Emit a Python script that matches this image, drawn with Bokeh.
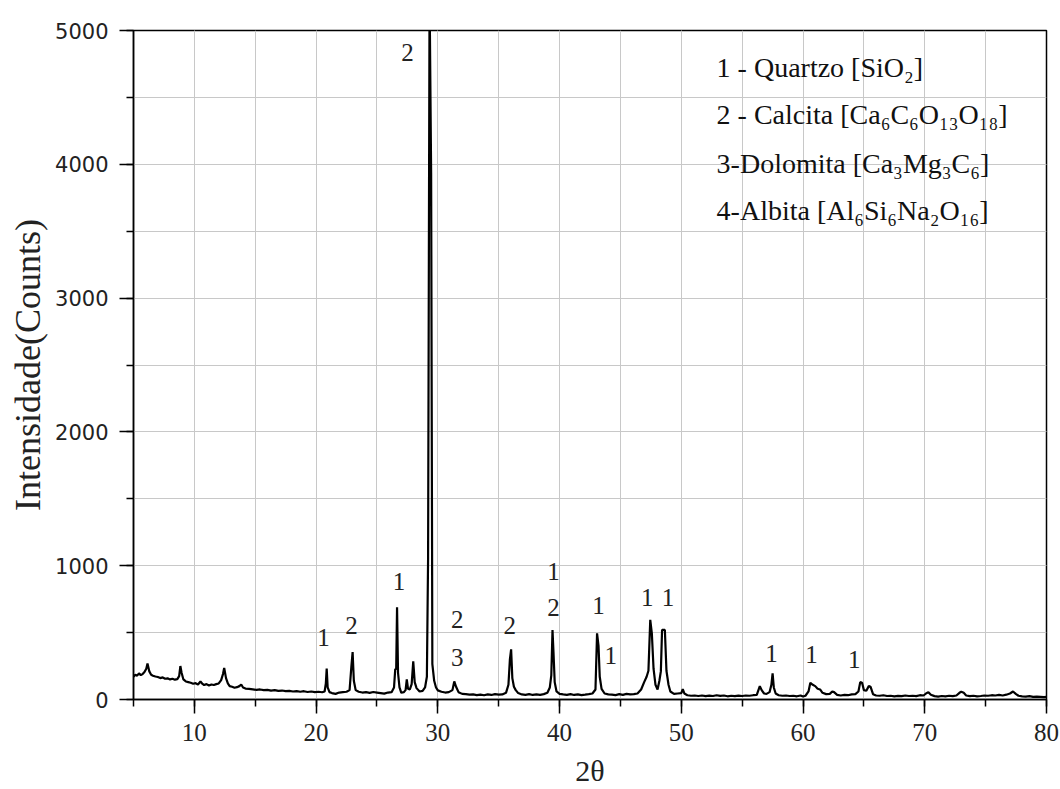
from bokeh.plotting import figure
from bokeh.models import Range1d, SingleIntervalTicker, Label, ColumnDataSource
from bokeh.core.properties import value
from bokeh.embed import file_html
from bokeh.resources import INLINE

# X-ray diffraction pattern: 2-theta (degrees) and intensity (counts)
two_theta = [
    5.0, 5.15, 5.3, 5.45, 5.6, 5.75, 5.9, 6.05, 6.15, 6.3,
    6.45, 6.6, 6.8, 7.0, 7.2, 7.4, 7.6, 7.8, 8.0, 8.2,
    8.4, 8.6, 8.75, 8.85, 8.95, 9.1, 9.3, 9.5, 9.7, 9.9,
    10.1, 10.3, 10.5, 10.65, 10.8, 11.0, 11.2, 11.4, 11.6, 11.8,
    12.0, 12.2, 12.35, 12.45, 12.6, 12.75, 12.9, 13.1, 13.3, 13.5,
    13.7, 13.85, 14.0, 14.2, 14.5, 14.8, 15.1, 15.4, 15.7, 16.0,
    16.3, 16.6, 16.9, 17.2, 17.5, 17.8, 18.1, 18.4, 18.7, 19.0,
    19.3, 19.6, 19.9, 20.2, 20.5, 20.7, 20.8, 20.87, 20.95, 21.1,
    21.3, 21.6, 21.9, 22.2, 22.5, 22.75, 22.9, 23.0, 23.1, 23.25,
    23.5, 23.8, 24.1, 24.4, 24.7, 25.0, 25.3, 25.6, 25.9, 26.2,
    26.4, 26.5, 26.58, 26.65, 26.73, 26.85, 27.0, 27.2, 27.35, 27.45,
    27.55, 27.7, 27.85, 27.98, 28.1, 28.25, 28.5, 28.75, 28.95, 29.1,
    29.2, 29.32, 29.45, 29.55, 29.7, 29.85, 30.0, 30.3, 30.6, 30.9,
    31.2, 31.35, 31.5, 31.7, 32.0, 32.3, 32.6, 32.9, 33.2, 33.5,
    33.8, 34.1, 34.4, 34.7, 35.0, 35.3, 35.6, 35.8, 35.92, 36.02,
    36.12, 36.25, 36.4, 36.6, 36.9, 37.2, 37.5, 37.8, 38.1, 38.4,
    38.7, 39.0, 39.2, 39.32, 39.42, 39.5, 39.6, 39.75, 40.0, 40.3,
    40.6, 40.9, 41.2, 41.5, 41.8, 42.1, 42.4, 42.7, 42.95, 43.08,
    43.2, 43.3, 43.45, 43.7, 44.0, 44.3, 44.6, 44.9, 45.2, 45.5,
    45.8, 46.1, 46.4, 46.7, 46.95, 47.15, 47.3, 47.45, 47.58, 47.72,
    47.88, 48.05, 48.2, 48.32, 48.42, 48.65, 48.78, 48.95, 49.1, 49.4,
    49.7, 50.0, 50.12, 50.25, 50.5, 50.8, 51.1, 51.4, 51.7, 52.0,
    52.3, 52.6, 52.9, 53.2, 53.5, 53.8, 54.1, 54.4, 54.7, 55.0,
    55.3, 55.6, 55.9, 56.2, 56.45, 56.6, 56.8, 57.0, 57.25, 57.4,
    57.5, 57.6, 57.75, 58.0, 58.3, 58.6, 58.9, 59.2, 59.5, 59.8,
    60.0, 60.2, 60.45, 60.6, 60.8, 61.0, 61.2, 61.4, 61.6, 61.9,
    62.2, 62.4, 62.55, 62.8, 63.1, 63.4, 63.7, 64.0, 64.3, 64.55,
    64.7, 64.85, 65.0, 65.2, 65.4, 65.55, 65.75, 66.0, 66.3, 66.6,
    66.9, 67.2, 67.5, 67.8, 68.1, 68.4, 68.7, 69.0, 69.3, 69.6,
    69.9, 70.1, 70.3, 70.5, 70.8, 71.1, 71.4, 71.7, 72.0, 72.3,
    72.6, 72.85, 73.0, 73.2, 73.4, 73.7, 74.0, 74.3, 74.6, 74.9,
    75.2, 75.5, 75.8, 76.1, 76.4, 76.7, 77.0, 77.25, 77.5, 77.7,
    78.0, 78.3, 78.6, 78.9, 79.2, 79.5, 79.8, 80.0,
]
counts = [
    170, 185, 178, 195, 182, 190, 205, 230, 270, 210,
    185, 178, 172, 168, 160, 165, 155, 158, 150, 155,
    148, 152, 175, 250, 200, 150, 135, 130, 125, 118,
    122, 112, 135, 118, 108, 115, 105, 112, 108, 115,
    120, 145, 190, 235, 160, 120, 100, 95, 88, 92,
    100, 112, 90, 82, 80, 76, 72, 75, 70, 72,
    66, 70, 64, 67, 62, 65, 60, 63, 58, 62,
    56, 60, 55, 58, 54, 60, 120, 232, 90, 55,
    48, 42, 52, 55, 58, 70, 250, 355, 140, 70,
    58, 52, 55, 50, 56, 52, 48, 44, 52, 55,
    90, 225, 230, 690, 200, 90, 50, 55, 70, 150,
    80, 75, 115, 285, 130, 85, 60, 65, 90, 170,
    1060, 5300, 3930, 265, 140, 90, 68, 58, 52, 55,
    70, 135, 95, 55, 42, 40, 36, 38, 33, 37,
    32, 38, 34, 40, 36, 38, 50, 110, 300, 375,
    160, 95, 70, 48, 38, 35, 40, 34, 38, 35,
    40, 50, 90, 180, 520, 355, 130, 60, 42, 38,
    35, 40, 34, 38, 33, 36, 40, 45, 75, 495,
    400, 170, 80, 45, 38, 36, 33, 40, 35, 42,
    38, 40, 45, 75, 130, 170, 215, 595, 495, 230,
    110, 75, 140, 210, 520, 520, 215, 110, 60, 42,
    45, 48, 78, 45, 32, 28, 30, 26, 30, 25,
    29, 26, 32, 27, 30, 24, 28, 25, 29, 26,
    30, 28, 32, 35, 100, 70, 45, 42, 55, 110,
    195, 90, 45, 32, 28, 30, 26, 28, 24, 30,
    22, 28, 60, 125, 110, 100, 80, 75, 50, 40,
    42, 60, 55, 35, 30, 34, 32, 38, 40, 60,
    130, 125, 70, 65, 100, 95, 40, 30, 28, 32,
    26, 28, 24, 27, 25, 30, 26, 28, 25, 32,
    30, 45, 55, 35, 25, 22, 26, 24, 28, 25,
    30, 50, 58, 50, 30, 25, 28, 24, 26, 30,
    28, 32, 30, 34, 30, 36, 45, 60, 40, 28,
    24, 22, 25, 20, 22, 20, 18, 20,
]

# Phase identification marks above the peaks
peak_label_x = [27.5, 20.6, 22.9, 26.8, 31.6, 31.6, 35.9, 39.5, 39.5, 43.2, 44.2,
                47.2, 48.9, 57.4, 60.7, 64.2]
peak_label_y = [4836, 463, 552, 880, 597, 313, 552, 955, 687, 701, 328,
                761, 761, 343, 336, 299]
peak_label_text = ["2", "1", "2", "1", "2", "3", "2", "1", "2", "1", "1",
                   "1", "1", "1", "1", "1"]

# Phase key
phase_key = [
    "1 - Quartzo [SiO\u2082]",
    "2 - Calcita [Ca\u2086C\u2086O\u2081\u2083O\u2081\u2088]",
    "3-Dolomita [Ca\u2083Mg\u2083C\u2086]",
    "4-Albita [Al\u2086Si\u2086Na\u2082O\u2081\u2086]",
]
phase_key_y = [4724, 4374, 4009, 3651]

serif = "Liberation Serif"

p = figure(
    width=1060, height=789,
    x_range=Range1d(5, 80), y_range=Range1d(0, 5000),
    output_backend="svg", toolbar_location=None, tools="",
    min_border_left=133, min_border_right=14, min_border_top=30, min_border_bottom=88,
)
p.background_fill_color = "white"
p.border_fill_color = "white"
p.outline_line_color = "black"
p.outline_line_width = 1.5

p.xaxis.ticker = SingleIntervalTicker(interval=10, num_minor_ticks=2)
p.yaxis.ticker = SingleIntervalTicker(interval=1000, num_minor_ticks=2)

for ax in (p.xaxis, p.yaxis):
    ax.axis_line_color = "black"
    ax.axis_line_width = 1.5
    ax.major_tick_line_color = "black"
    ax.minor_tick_line_color = "black"
    ax.major_tick_line_width = 1.5
    ax.minor_tick_line_width = 1.5
    ax.major_tick_in = 0
    ax.major_tick_out = 14
    ax.minor_tick_in = 0
    ax.minor_tick_out = 7
    ax.major_label_text_color = "#222222"
    ax.axis_label_text_color = "#222222"
    ax.axis_label_text_font_style = "normal"

p.xaxis.major_label_text_font = serif
p.xaxis.major_label_text_font_size = "25px"
p.xaxis.major_label_standoff = 10
p.xaxis.axis_label = "2\u03b8"
p.xaxis.axis_label_text_font = serif
p.xaxis.axis_label_text_font_size = "30px"
p.xaxis.axis_label_standoff = 10

p.yaxis.major_label_text_font = "DejaVu Sans"
p.yaxis.major_label_text_font_size = "21px"
p.yaxis.major_label_standoff = 11
p.yaxis.axis_label = "Intensidade(Counts)"
p.yaxis.axis_label_text_font = serif
p.yaxis.axis_label_text_font_size = "36px"
p.yaxis.axis_label_standoff = 4

for g in (p.xgrid, p.ygrid):
    g.grid_line_color = "#c8c8c8"
    g.grid_line_width = 1
    g.minor_grid_line_color = "#c8c8c8"
    g.minor_grid_line_width = 1

p.line(two_theta, counts, line_color="black", line_width=2.2)

src = ColumnDataSource(dict(x=peak_label_x, y=peak_label_y, t=peak_label_text))
p.text(x="x", y="y", text="t", source=src, text_font=value(serif),
       text_font_size="25px", text_color="#222222",
       text_align="center", text_baseline="middle")

for txt, yy in zip(phase_key, phase_key_y):
    p.add_layout(Label(x=52.9, y=yy, text=txt, text_font=serif,
                       text_font_size="28px", text_color="#111111",
                       text_baseline="middle", text_align="left"))

open("out.html", "w").write(file_html(p, INLINE))
